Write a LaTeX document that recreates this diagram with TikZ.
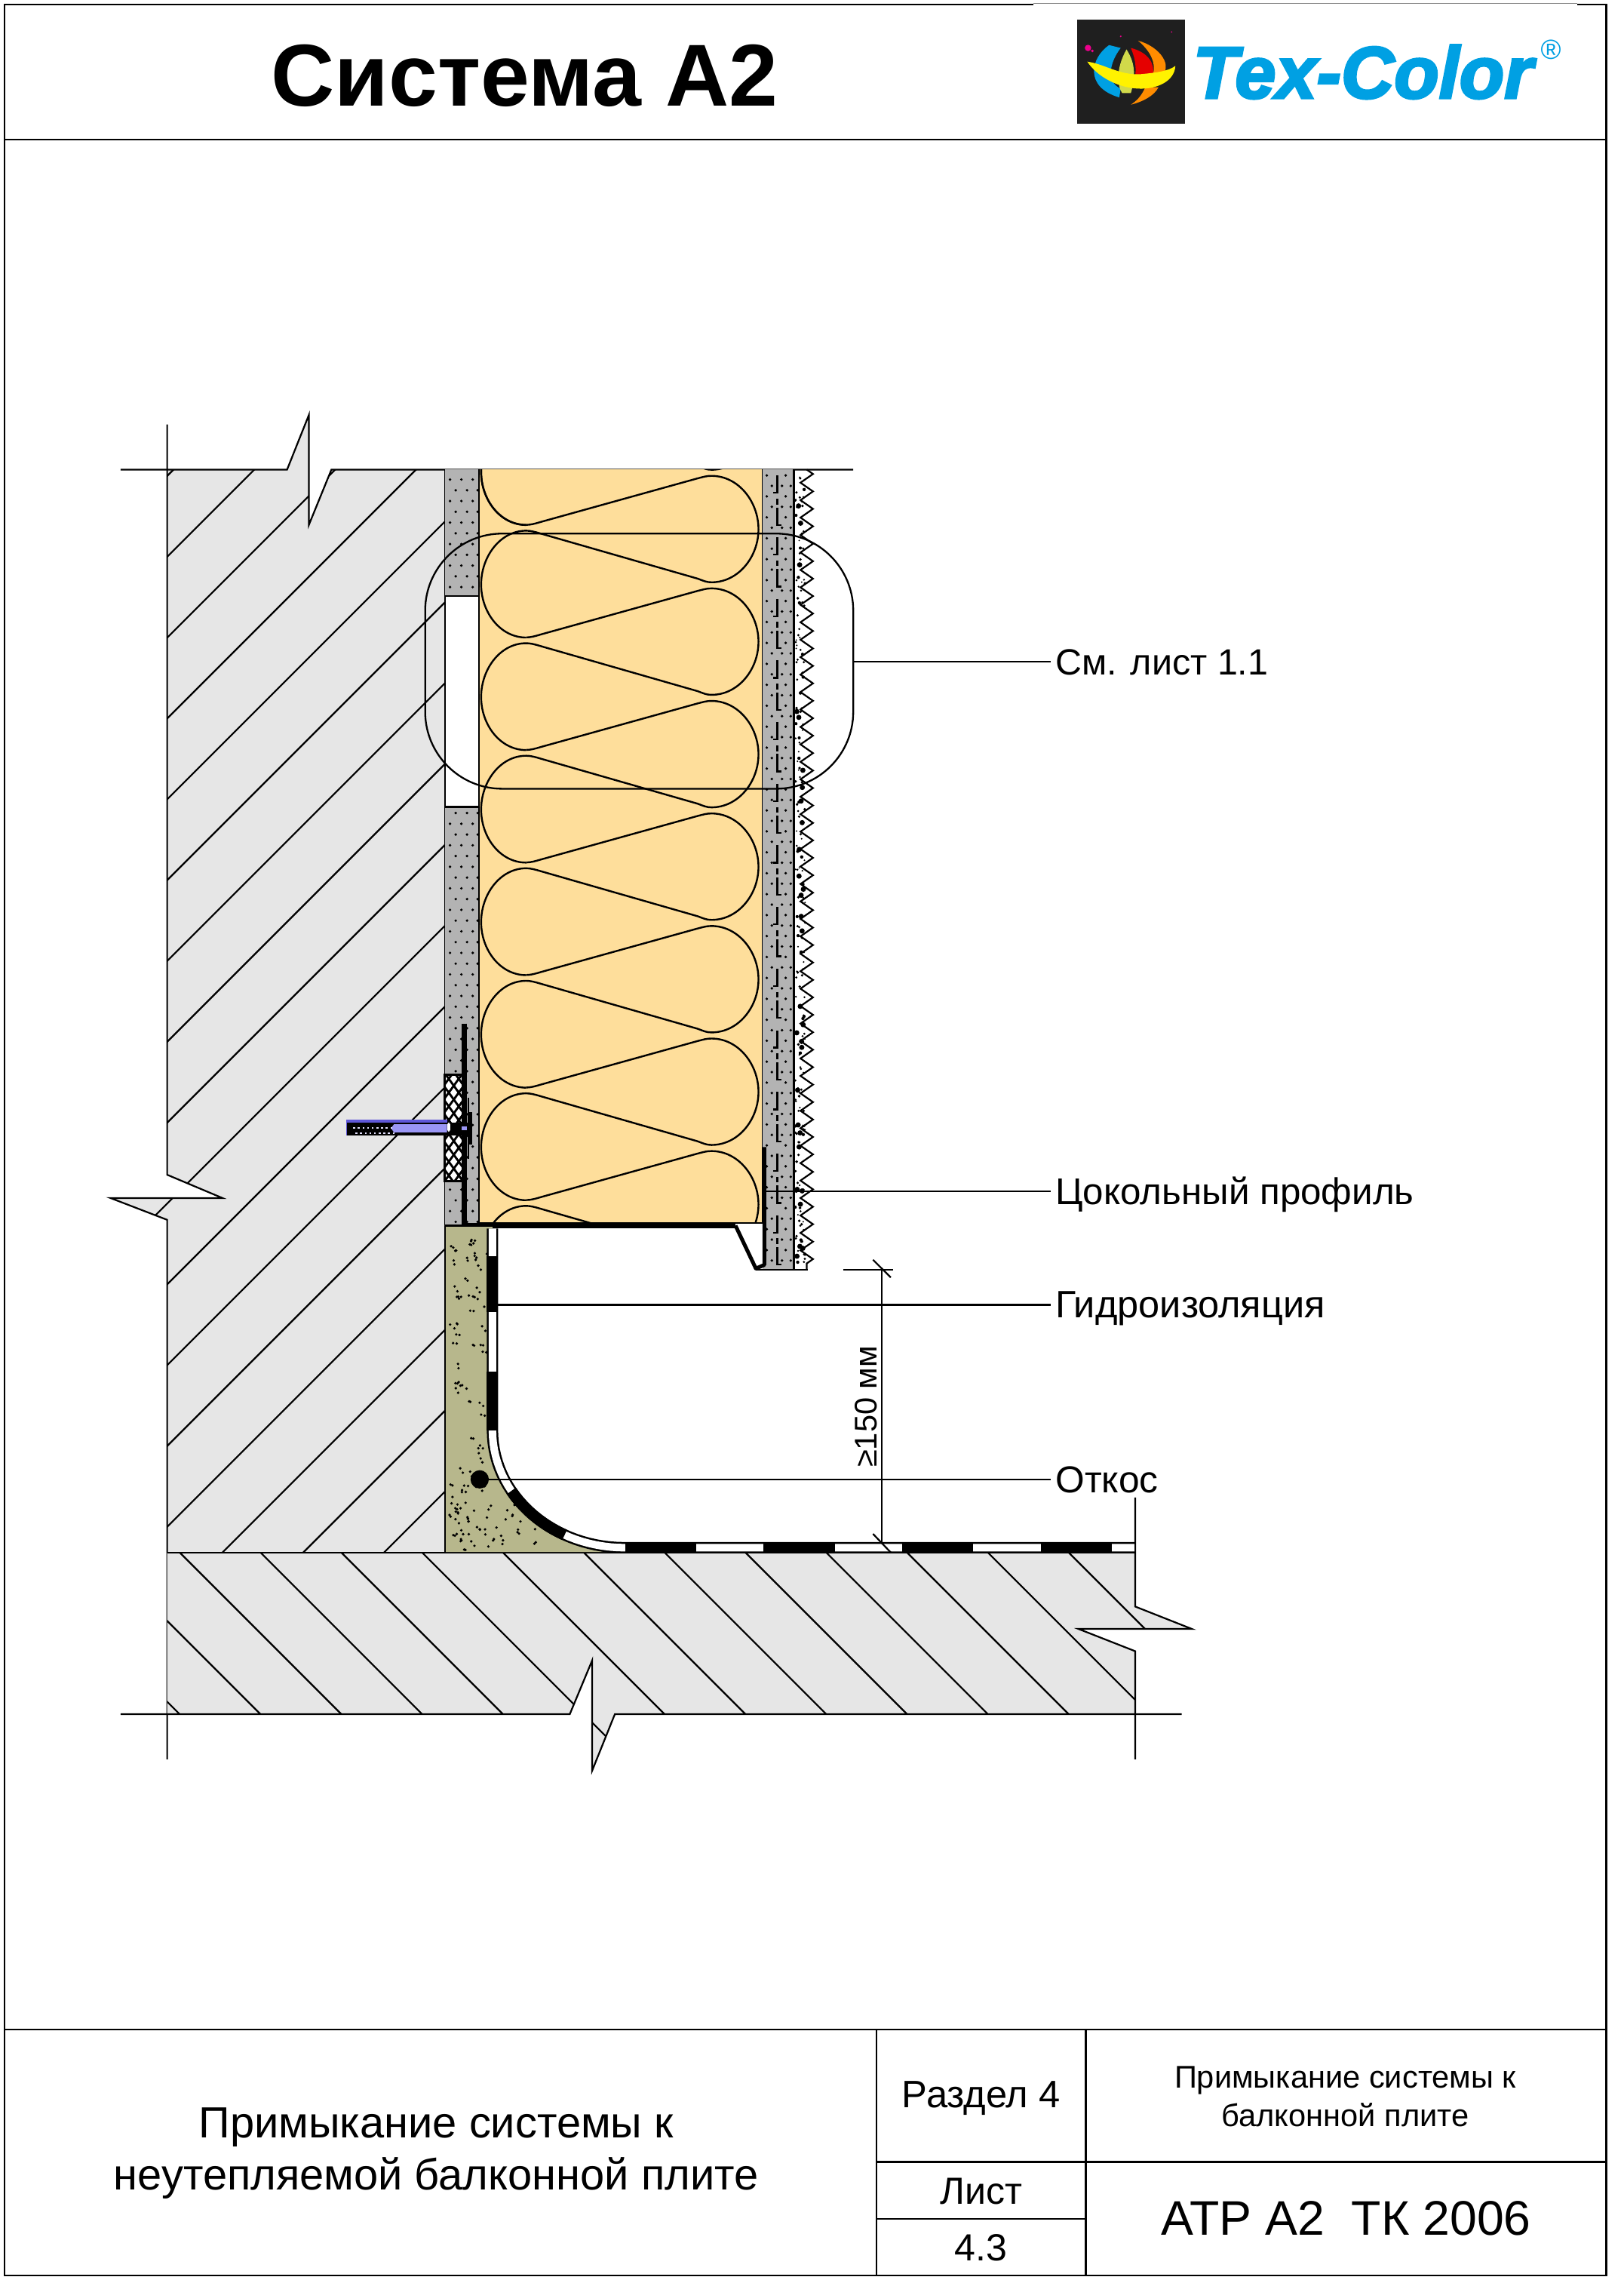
\documentclass[tikz,border=0pt]{standalone}
\usepackage{fontspec}
\setmainfont{Liberation Sans}
\newfontfamily\logofont[FakeBold=3.2]{Liberation Sans}
\usetikzlibrary{decorations.pathmorphing}
\definecolor{wallgray}{HTML}{E6E6E6}
\definecolor{mortar}{HTML}{B3B3B3}
\definecolor{wool}{HTML}{FEDE9B}
\definecolor{olive}{HTML}{B7B78C}
\definecolor{logoblue}{HTML}{00A0E3}
\definecolor{dowel}{HTML}{9A96F5}
\definecolor{dowelD}{HTML}{5F58D8}
\tikzset{
 ln/.style={line width=1.15pt,line join=miter},
 frameline/.style={line width=1.25pt},
 lbl/.style={anchor=west,inner xsep=3pt,inner ysep=0pt,text height=18pt,text depth=0pt,font=\fontsize{#1}{#1}\selectfont},
 cell/.style={inner sep=0pt,align=center},
}
\begin{document}
\begin{tikzpicture}[x=1pt,y=-1pt]
\useasboundingbox (0,0) rectangle (1116.8,1568.2);
\fill[white] (0,0) rectangle (1116.8,1568.2);

% ---------- wall
\def\wallpoly{(115,323)--(197.5,323)--(212.5,285.4)--(212.5,361)--(228,323)--(306,323)--(306,1068)--(115,1068)--(115,839)--(76,824)--(153,824)--(115,808)--cycle}
\fill[wallgray] \wallpoly;
\begin{scope}
\clip \wallpoly;
\foreach \k in {-1,...,16} \draw[ln] ({498+55.6*\k-1200},1200) -- ({498+55.6*\k},0);
\end{scope}
\draw[ln] (115,292)--(115,808)--(153,824)--(76,824)--(115,839)--(115,1210);
\draw[ln] (83,323)--(197.5,323)--(212.5,285.4)--(212.5,361)--(228,323)--(587,323);
\draw[ln] (306,323)--(306,1068);

% ---------- slab
\def\slabpoly{(115,1068)--(781,1068)--(781,1105)--(820,1120.4)--(742,1120.4)--(781,1135.7)--(781,1179)--(423,1179)--(407.4,1217.8)--(407.4,1142)--(392,1179)--(115,1179)--cycle}
\fill[wallgray] \slabpoly;
\begin{scope}
\clip \slabpoly;
\foreach \k in {-12,...,9} \draw[ln] (0,{777.4-55.6*\k}) -- (1000,{1777.4-55.6*\k});
\end{scope}
\draw[ln] (83,1179)--(392,1179)--(407.4,1142)--(407.4,1217.8)--(423,1179)--(813,1179);
\draw[ln] (781,1030)--(781,1105)--(820,1120.4)--(742,1120.4)--(781,1135.7)--(781,1210);
\draw[ln] (115,1068)--(781,1068);

% ---------- adhesive
\fill[mortar] (306,323) rectangle (329.5,410);
\fill[mortar] (306,555) rectangle (329.5,843);
\begin{scope}
\clip (306,323) rectangle (329.5,410) (306,555) rectangle (329.5,843);
\foreach \r in {0,2,...,70} \foreach \x in {309.6,317.4,325.2} \fill ({\x},{329.8+7.4*\r}) circle (0.95pt);
\foreach \r in {1,3,...,71} \foreach \x in {313.5,321.3,328.6} \fill ({\x},{329.8+7.4*\r}) circle (0.95pt);
\end{scope}
\draw[ln] (306,410)--(329.5,410) (306,555)--(329.5,555);

% ---------- wool
\fill[wool] (329.5,323) rectangle (524.5,841);
\begin{scope}
\clip (330,323) rectangle (524.5,841);
\foreach \k in {-1,...,7}{
 \begin{scope}[shift={(0,{77.4*\k*1pt*-1})}]
 \draw[line width=1.25pt] (362,361) .. controls (365,361) and (368,360.2) .. (372,359) -- (480,329)
   .. controls (484,328) and (486,327.3) .. (489.5,327.3)
   .. controls (508,327.3) and (521.8,345) .. (521.8,364)
   .. controls (521.8,383) and (508,400.5) .. (489.5,400.5)
   .. controls (486,400.5) and (484,399.5) .. (480,398) -- (372,367)
   .. controls (368,365.8) and (365,365) .. (362,365)
   .. controls (344,365) and (331,383) .. (331,402)
   .. controls (331,421) and (344,438.5) .. (362,438.5);
 \end{scope}
}
\draw[line width=1.25pt] (362,287.6) .. controls (344,287.6) and (331,305.6) .. (331,324.6) .. controls (331,343.6) and (344,361) .. (362,361);
\end{scope}
\draw[line width=1.3pt] (329.5,323)--(329.5,843);
\draw[ln] (524.5,323)--(524.5,841);
\draw[ln] (330,841)--(524.5,841);

% ---------- base coat
\fill[mortar] (524.5,323) rectangle (546,873);
\begin{scope}
\clip (524.5,323) rectangle (546,873);
\foreach \r in {0,2,...,76} \foreach \x in {527.5,540.5} \fill ({\x},{327+7.2*\r}) circle (0.95pt);
\foreach \r in {1,3,...,75} \foreach \x in {531,538,544} \fill ({\x},{327+7.2*\r}) circle (0.95pt);
\foreach \r in {0,...,12}{
  \draw[line width=1.2pt] (534.7,{327+42.4*\r})--(534.7,{339+42.4*\r})--(532,{339+42.4*\r});
  \draw[line width=1.2pt] (534.7,{343+42.4*\r})--(534.7,{347+42.4*\r});
  \draw[line width=1.2pt] (534.7,{349+42.4*\r})--(534.7,{361+42.4*\r})--(537.5,{361+42.4*\r});
}
\end{scope}
\draw[line width=1.5pt] (546,323)--(546,873);

% ---------- finish coat
\pgfmathsetseed{42}
\begin{scope}
\clip (546,323) rectangle (555,873);
\foreach \i in {1,...,170} \fill ({547+7*rnd},{325+546*rnd}) circle ({(0.55+0.6*rnd)*1pt});
\foreach \i in {1,...,30} \fill ({548+5*rnd},{345+520*rnd}) circle (1.8pt);
\end{scope}
\draw[ln,decorate,decoration={zigzag,segment length=12pt,amplitude=4.3pt}] (555,323)--(555,873);

% ---------- base profile
\draw[line width=3.8pt,line join=round] (319.5,704)--(319.5,843)--(506,843);
\draw[line width=2.6pt,line join=round] (506,843)--(520,872.5)--(525.8,870)--(525.8,789);
\draw[ln] (520,873.5)--(556,873.5);

% ---------- mesh plug block
\fill[white] (305.8,739) rectangle (318.5,812.5);
\begin{scope}
\clip (305.8,739) rectangle (318.5,812.5);
\foreach \k in {-6,...,12}{
 \draw[line width=1.5pt] (300,{746.75+9.5*\k-16.8})--(330,{746.75+9.5*\k+24.6});
 \draw[line width=1.5pt] (300,{746.75+9.5*\k+16.8})--(330,{746.75+9.5*\k-24.6});
}
\end{scope}
\draw[line width=1.6pt] (305.8,739) rectangle (318.5,812.5);
% dowel
\fill[dowelD] (238.4,770) rectangle (307.9,781);
\fill[black] (238.6,772.2) rectangle (307.9,781);
\fill[dowel] (271,773.3)--(307.5,773.3)--(307.5,778.8)--(271,778.8)--(269,776)--cycle;
\foreach \i in {0,...,8}{
  \fill[white!70!dowel] ({243+3.2*\i},775.2) rectangle ++(1.3pt,-1.3pt);
  \fill[white!70!dowel] ({244.5+3.2*\i},778.8) rectangle ++(1.3pt,-1.3pt);
}
\fill[black] (309.7,772) rectangle (322,781);
\fill[dowel] (317.6,774.6) rectangle (321,777.5);
\fill[black] (321.5,755) rectangle (323,797);
\fill[black] (323,765) rectangle (325,787);

% ---------- olive fillet
\def\olivepoly{(306,843)--(338.8,843)--(338.8,984) -- plot[domain=180:270,samples=25] ({429.7+90.9*cos(\x)},{984-80.5*sin(\x)}) --(429.7,1067.5)--(306,1067.5)--cycle}
\fill[olive] \olivepoly;
\pgfmathsetseed{17}
\begin{scope}
\clip \olivepoly;
\foreach \i in {1,...,60}{
  \pgfmathsetmacro\ax{309+26*rnd}
  \pgfmathsetmacro\ay{848+218*rnd}
  \fill (\ax,\ay) circle (0.95pt);
  \fill ({\ax+3*rnd},{\ay+3.5*rnd}) circle (0.95pt);
}
\foreach \i in {1,...,45}{
  \fill ({310+70*rnd},{1022+44*rnd}) circle (0.95pt);
}
\end{scope}
\draw[ln] (306,843)--(306,1068);

% ---------- membrane
\def\bandpath{(338.8,845) -- (338.8,984) -- plot[domain=180:270,samples=30] ({429.7+90.9*cos(\x)},{984-80.5*sin(\x)}) -- (781,1064.5)}
\draw[line width=7.8pt] \bandpath;
\draw[white,line width=5.2pt] \bandpath;
\draw[line width=7.8pt] (338.8,864)--(338.8,902.5);
\draw[line width=7.8pt] (338.8,943.6)--(338.8,984);
\draw[line width=7.8pt] plot[domain=211:243,samples=12] ({429.7+90.9*cos(\x)},{984-80.5*sin(\x)});
\foreach \a in {430,525.3,620.6,716} \draw[line width=7.8pt] (\a,1064.5)--({\a+49},1064.5);
\draw[ln] (781,1030)--(781,1068);
\draw[ln] (306,843)--(342.6,843);

% ---------- callout
\draw[line width=1.2pt,rounded corners=53pt] (292.5,367) rectangle (587,542.5);

% ---------- labels
\node[lbl=25.1] (l1) at (723,455) {См. лист 1.1};
\node[lbl=25.6] (l2) at (723,819.3) {Цокольный профиль};
\node[lbl=26.2] (l3) at (723,897.5) {Гидроизоляция};
\node[lbl=25.8] (l4) at (723,1017.5) {Откос};
\coordinate (c1) at (587,455);
\coordinate (c2) at (527,819.3);
\coordinate (c3) at (342.6,897.5);
\coordinate (c4) at (330,1017.5);
\draw[ln] (c1) -- (l1.west);
\draw[ln] (c2) -- (l2.west);
\draw[ln] (c3) -- (l3.west);
\draw[ln] (c4) -- (l4.west);
\fill (c4) circle (6.3pt);

% ---------- dimension
\coordinate (d1) at (606.7,873.5);
\coordinate (d2) at (606.7,1061);
\draw[ln] (d1) -- (d2);
\draw[ln] (580,873.5) -- (614.6,873.5);
\draw[ln] (600.6,866.5) -- (612.8,878.6);
\draw[ln] (600.6,1055) -- (613,1068);
\node[cell,rotate=90,font=\fontsize{21.6}{21.6}\selectfont] (dimtext) at (596,967.5) {≥150 мм};

% ---------- frame
\draw[frameline] (711,3)--(3,3)--(3,1565)--(1105,1565)--(1105,3)--(1085,3);
\draw[line width=0.6pt,black!50] (711,2.2)--(1085,2.2);
\draw[frameline] (3,96)--(1105,96);
\draw[frameline] (3,1396)--(1105,1396);
\draw[frameline] (603,1396)--(603,1565) (747,1396)--(747,1565);
\draw[frameline] (603,1487)--(1105,1487) (603,1526)--(747,1526);

% ---------- title
\node[cell,font=\fontsize{60.5}{60.5}\selectfont\bfseries] (title) at (361,52) {Система А2};

% ---------- logo
\fill[black!88] (741,13.5) rectangle (815,85.2);
\fill[logoblue] (763,31) .. controls (750,40) and (746,60) .. (770,67) -- (771,61) .. controls (760,56) and (764,42) .. (771,33) -- cycle;
\fill[yellow!60!olive!90!green] (775,34) .. controls (767,48) and (769,60) .. (772,64) -- (778,64) .. controls (782,50) and (780,42) .. (775,34) -- cycle;
\fill[red!90!black] (778,33) .. controls (790,36) and (795,44) .. (793,52) -- (781,52) .. controls (782,44) and (780,38) .. (778,33) -- cycle;
\fill[orange!90!yellow] (783,28) .. controls (798,32) and (808,46) .. (798,53) -- (793,52) .. controls (796,42) and (790,34) .. (783,28) -- cycle;
\fill[orange!90!yellow] (788,60) -- (797,60) .. controls (794,66) and (786,70) .. (778,72) .. controls (784,68) and (786,64) .. (788,60) -- cycle;
\fill[yellow] (748,42.4) .. controls (760,44) and (770,52) .. (785,51) .. controls (795,50) and (804,49) .. (808.6,45.3) .. controls (808,56) and (796,61) .. (785,61) .. controls (770,61) and (755,53) .. (748,42.4) -- cycle;
\fill[magenta] (748.5,33) circle (2.2pt);
\fill[magenta] (751.5,35) circle (1pt);
\fill[magenta] (771,25) circle (0.6pt);
\fill[magenta] (806,22) circle (0.5pt);
\node[cell,anchor=base west,text=logoblue,font=\logofont\fontsize{50.5}{50.5}\selectfont\bfseries\itshape] (logo) at (820.5,67.5) {Tex-Color};
\node[cell,text=logoblue,font=\fontsize{19}{19}\selectfont] (reg) at (1067,34) {®};

% ---------- table text
\node[cell,font=\fontsize{30}{36}\selectfont] (t1) at (300,1481) {Примыкание системы к\\неутепляемой балконной плите};
\node[cell,font=\fontsize{26.3}{26.3}\selectfont] (t2) at (675,1443) {Раздел 4};
\node[cell,font=\fontsize{21.6}{26}\selectfont] (t3) at (925.5,1442) {Примыкание системы к\\балконной плите};
\node[cell,font=\fontsize{26}{26}\selectfont] (t4) at (675,1507) {Лист};
\node[cell,font=\fontsize{26}{26}\selectfont] (t5) at (675,1546) {4.3};
\node[cell,font=\fontsize{33.4}{33.4}\selectfont] (t6) at (926,1526) {АТР А2\ \ ТК 2006};
\end{tikzpicture}
\end{document}
